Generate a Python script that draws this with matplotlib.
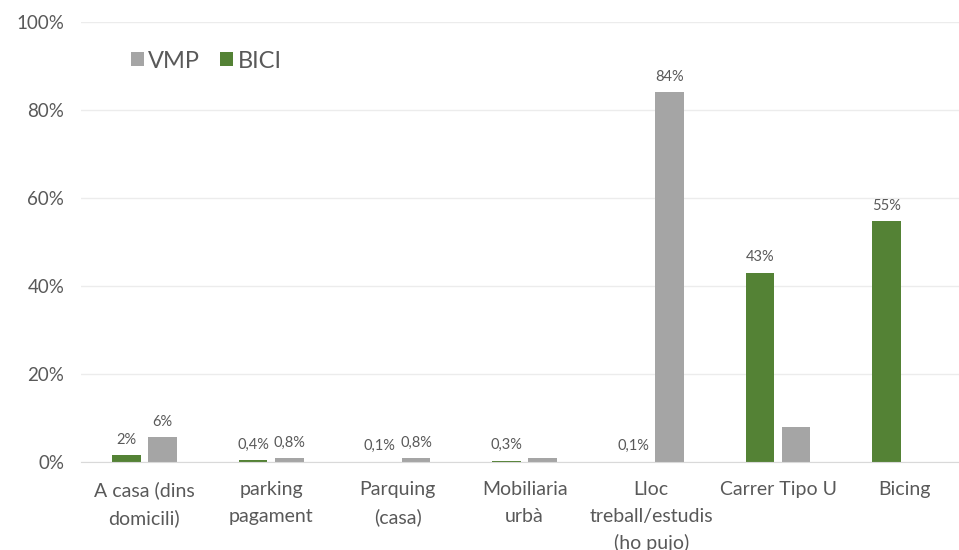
import matplotlib.pyplot as plt
import numpy as np

plt.rcParams['font.family'] = ['Lato', 'DejaVu Sans']

categorias = ['A casa (dins\ndomicili)', 'parking\npagament', 'Parquing\n(casa)',
              'Mobiliaria\nurbà', 'Lloc\ntreball/estudis\n(ho pujo)', 'Carrer Tipo U', 'Bicing']
bici = [1.5, 0.4, 0.1, 0.3, 0.1, 43.0, 54.7]
vmp = [5.6, 0.8, 0.8, 0.8, 84.0, 8.0, 0.0]
etiquetes_bici = ['2%', '0,4%', '0,1%', '0,3%', '0,1%', '43%', '55%']
etiquetes_vmp = ['6%', '0,8%', '0,8%', '', '84%', '', '']

verd = '#548235'
gris = '#a5a5a5'
text_gris = '#595959'

fig = plt.figure(figsize=(9.59, 5.5), dpi=100)
ax = fig.add_axes([0.0845, 0.16, 0.925, 0.80])

x = np.arange(len(categorias))
w = 0.225
b1 = ax.bar(x - 0.143, bici, w, color=verd, label='BICI', zorder=3)
b2 = ax.bar(x + 0.143, vmp, w, color=gris, label='VMP', zorder=3)

for rect, txt in zip(b1, etiquetes_bici):
    if txt:
        ax.annotate(txt, (rect.get_x() + rect.get_width() / 2, rect.get_height()),
                    xytext=(0, 6), textcoords='offset points', ha='center', va='bottom',
                    fontsize=10.5, color=text_gris)
for rect, txt in zip(b2, etiquetes_vmp):
    if txt:
        ax.annotate(txt, (rect.get_x() + rect.get_width() / 2, rect.get_height()),
                    xytext=(0, 6), textcoords='offset points', ha='center', va='bottom',
                    fontsize=10.5, color=text_gris)

ax.set_xlim(-0.5, 6.5)
ax.set_ylim(0, 100)
ax.set_yticks(range(0, 101, 20))
ax.set_yticklabels([f'{v}%' for v in range(0, 101, 20)])
ax.set_xticks(x)
ax.set_xticklabels(categorias, fontsize=14, color=text_gris, linespacing=1.65, va='top')
ax.tick_params(axis='y', labelsize=13.5, colors=text_gris, length=0, pad=12)
ax.tick_params(axis='x', length=0, pad=14)

ax.grid(axis='y', color='#ececec', linewidth=1, zorder=0)
for s in ['top', 'right', 'left']:
    ax.spines[s].set_visible(False)
ax.spines['bottom'].set_color('#d9d9d9')
ax.spines['bottom'].set_zorder(4)

h, l = ax.get_legend_handles_labels()
ax.legend(h[::-1], l[::-1], loc='center left', bbox_to_anchor=(0.032, 0.911), ncol=2,
          frameon=False, fontsize=17, labelcolor=text_gris, handlelength=0.55,
          handleheight=0.55, handletextpad=0.2, columnspacing=0.85)

plt.savefig('out.png', dpi=100)
plt.close()
